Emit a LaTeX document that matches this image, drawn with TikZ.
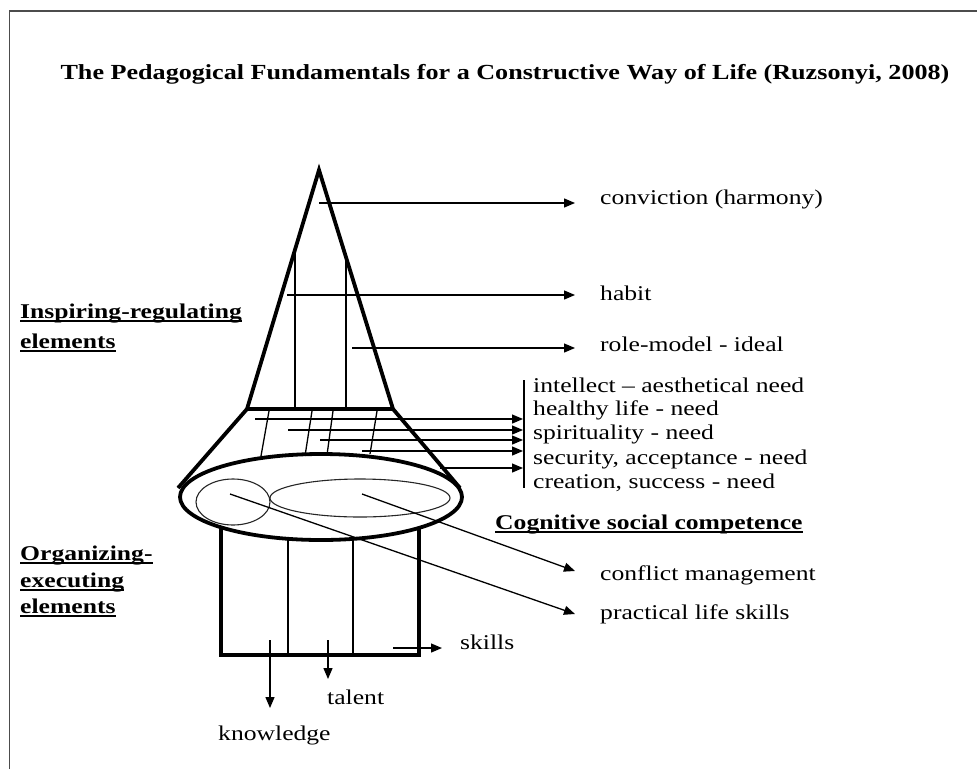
\documentclass[tikz,border=0pt]{standalone}
\usepackage{fontspec}
\setmainfont{Liberation Serif}
\usetikzlibrary{arrows.meta,shapes.geometric}

% text is set slightly widened
\newcommand\sx[1]{\scalebox{1.22}[1]{#1}}
% bold text with a heavy underline
\newcommand\ulbf[1]{\setbox0=\hbox{\bfseries #1}\rlap{\rule[-4pt]{\wd0}{1.8pt}}\box0}

\tikzset{
  frameline/.style={draw=black!70, line width=1.8pt},
  heavy/.style={line width=3.8pt, line join=miter},
  thinline/.style={line width=1.3pt},
  ring/.style={line width=1.1pt, draw=black!85},
  arr/.style={thinline, -{Triangle[length=11pt,width=9pt]}},
  lbl/.style={anchor=base west, inner sep=0pt, font=\fontsize{21}{24}\selectfont},
  head/.style={anchor=base west, inner sep=0pt, font=\fontsize{21}{24}\selectfont\bfseries},
}

\begin{document}
\begin{tikzpicture}[x=1pt, y=-1pt]
\useasboundingbox (0,0) rectangle (977,769);

% outer frame (top and left edges)
\draw[frameline] (9.5,769) -- (9.5,11) -- (977,11);

% title
\node[anchor=base, inner sep=0pt, font=\fontsize{21.5}{24}\selectfont\bfseries] (title) at (505,79)
  {\scalebox{1.215}[1]{The Pedagogical Fundamentals for a Constructive Way of Life (Ruzsonyi, 2008)}};

% ---------- cone (inspiring part) ----------
\coordinate (apex) at (319,170);
\coordinate (bl) at (247,409);
\coordinate (br) at (393,409);
\draw[heavy] (bl) -- (apex) -- (br) -- cycle;
\coordinate (v1t) at (295,250); \coordinate (v1b) at (295,409);
\coordinate (v2t) at (346,257); \coordinate (v2b) at (346,409);
\draw[thinline] (v1t) -- (v1b);
\draw[thinline] (v2t) -- (v2b);

% ---------- frustum ----------
\coordinate (fl) at (178,488);
\coordinate (fr) at (460,488);
\draw[heavy] (bl) -- (fl);
\draw[heavy] (br) -- (fr);
\foreach \a/\b/\c/\d in {269/411/261/456, 312/411/305/456, 333/411/327/455, 377/411/370/454}
  \draw[thinline] (\a,\b) -- (\c,\d);

% ---------- disc ----------
\draw[heavy] (321,497) ellipse [x radius=141, y radius=43];
\node[ring, ellipse, minimum width=74pt, minimum height=46pt, inner sep=0pt, draw] (circ) at (233,502) {};
\draw[ring] (360,498) ellipse [x radius=90, y radius=19];

% ---------- base block ----------
\coordinate (rl) at (221,527);
\coordinate (rr) at (419,528);
\coordinate (rbl) at (221,655);
\coordinate (rbr) at (419,655);
\draw[heavy] (rl) -- (rbl) -- (rbr) -- (rr);
\draw[thinline] (288,539) -- (288,655);
\draw[thinline] (353,539) -- (353,655);

% ---------- labels right of the cone ----------
\node[lbl] (conv) at (600,204) {\sx{conviction (harmony)}};
\node[lbl] (habit) at (600,300) {\sx{habit}};
\node[lbl] (role) at (600,351) {\sx{role-model - ideal}};

\coordinate (c0) at (319,203);  \coordinate (c1) at (575,203);
\coordinate (h0) at (287,295);  \coordinate (h1) at (575,295);
\coordinate (r0) at (352,348);  \coordinate (r1) at (575,348);
\draw[arr] (c0) -- (c1);
\draw[arr] (h0) -- (h1);
\draw[arr] (r0) -- (r1);

% ---------- needs ----------
\coordinate (brt) at (524,380);
\coordinate (brb) at (524,488);
\draw[thinline] (brt) -- (brb);
\node[lbl] (n1) at (533,392) {\sx{intellect -- aesthetical need}};
\node[lbl] (n2) at (533,415) {\sx{healthy life - need}};
\node[lbl] (n3) at (533,439) {\sx{spirituality - need}};
\node[lbl] (n4) at (533,464) {\sx{security, acceptance - need}};
\node[lbl] (n5) at (533,488) {\sx{creation, success - need}};
\foreach \xs/\y in {255/419, 288/430, 320/440, 362/451, 440/468}
  \draw[arr] (\xs,\y) -- (523,\y);

% ---------- cognitive social competence ----------
\node[head] (csc) at (495,529) {\sx{\ulbf{Cognitive social competence}}};
\node[lbl] (conf) at (600,580) {\sx{conflict management}};
\node[lbl] (prac) at (600,619) {\sx{practical life skills}};
\coordinate (e0) at (362,494);  \coordinate (e1) at (575,571);
\coordinate (s0) at (230,494);  \coordinate (s1) at (575,614);
\draw[arr] (e0) -- (e1);
\draw[arr] (s0) -- (s1);

% ---------- organizing outputs ----------
\node[lbl] (skills) at (460,649) {\sx{skills}};
\node[lbl] (talent) at (327,704) {\sx{talent}};
\node[lbl] (know) at (218,740) {\sx{knowledge}};
\coordinate (k0) at (270,640);  \coordinate (k1) at (270,708);
\coordinate (t0) at (328,640);  \coordinate (t1) at (328,679);
\coordinate (sk0) at (393,648); \coordinate (sk1) at (442,648);
\draw[arr] (k0) -- (k1);
\draw[arr] (t0) -- (t1);
\draw[arr] (sk0) -- (sk1);

% ---------- side headings ----------
\node[head] (ir1) at (20,318) {\sx{\ulbf{Inspiring-regulating}}};
\node[head] (ir2) at (20,348) {\sx{\ulbf{elements}}};
\node[head] (oe1) at (20,560) {\sx{\ulbf{Organizing-}}};
\node[head] (oe2) at (20,587) {\sx{\ulbf{executing}}};
\node[head] (oe3) at (20,613) {\sx{\ulbf{elements}}};
\end{tikzpicture}
\end{document}
